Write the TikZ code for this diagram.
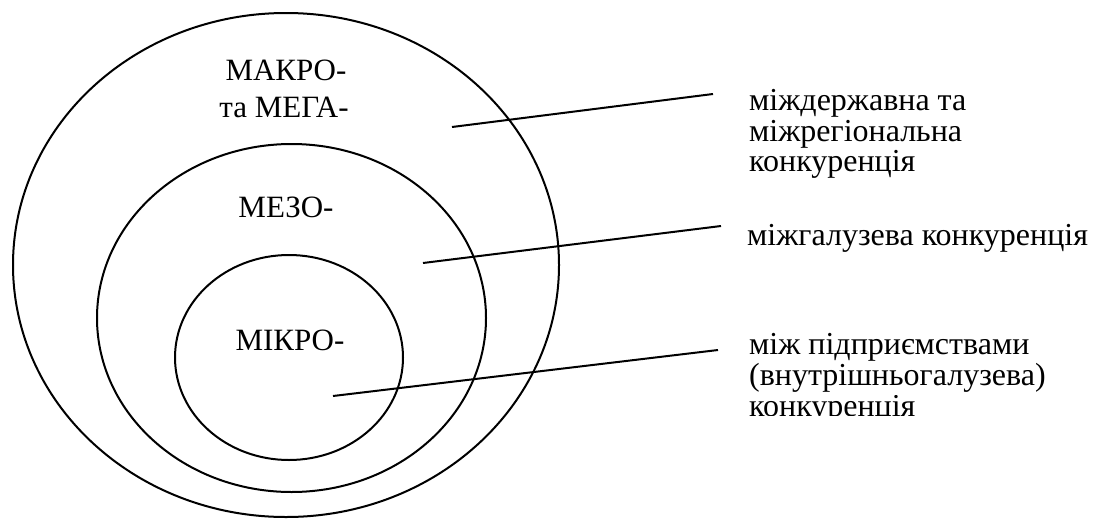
\documentclass[tikz,border=0pt]{standalone}
\usepackage{fontspec}
\setmainfont{Liberation Serif}
\newfontfamily\tnr{Liberation Serif}
\begin{document}
\begin{tikzpicture}[x=1pt,y=-1pt,
  ring/.style={line width=2pt},
  leader/.style={line width=2pt},
  lbl/.style={inner sep=0pt,font=\tnr\fontsize{31}{31}\selectfont},
  rlbl/.style={inner sep=0pt,anchor=base west,font=\tnr\fontsize{32}{32}\selectfont}]
\useasboundingbox (0,0) rectangle (1098,520);
% rings
\draw[ring] (286,265) ellipse [x radius=273, y radius=252];
\draw[ring] (291.5,318) ellipse [x radius=194.5, y radius=174];
\draw[ring] (289,357.5) ellipse [x radius=114, y radius=102.5];
% ring labels
\node[lbl,anchor=base] (macro1) at (286,80) {МАКРО-};
\node[lbl,anchor=base] (macro2) at (284,117) {та МЕГА-};
\node[lbl,anchor=base] (meso) at (286,217) {МЕЗО-};
\node[lbl,anchor=base] (micro) at (290,350) {МІКРО-};
% right labels
\node[rlbl] (a1) at (749,110) {міждержавна та};
\node[rlbl] (a2) at (749,141) {міжрегіональна};
\node[rlbl] (a3) at (749,171) {конкуренція};
\node[rlbl] (b1) at (747,245) {міжгалузева конкуренція};
\node[rlbl] (c1) at (749,354) {між підприємствами};
\node[rlbl] (c2) at (749,385) {(внутрішньогалузева)};
\begin{scope}
\clip (740,395) rectangle (1098,415);
\node[rlbl] (c3) at (749,416) {конкуренція};
\end{scope}
% leaders
\coordinate (p1) at (452,127); \coordinate (q1) at (713,94);
\coordinate (p2) at (423,263); \coordinate (q2) at (721,226);
\coordinate (p3) at (333,396); \coordinate (q3) at (718,350);
\draw[leader] (p1) -- (q1);
\draw[leader] (p2) -- (q2);
\draw[leader] (p3) -- (q3);
\end{tikzpicture}
\end{document}
